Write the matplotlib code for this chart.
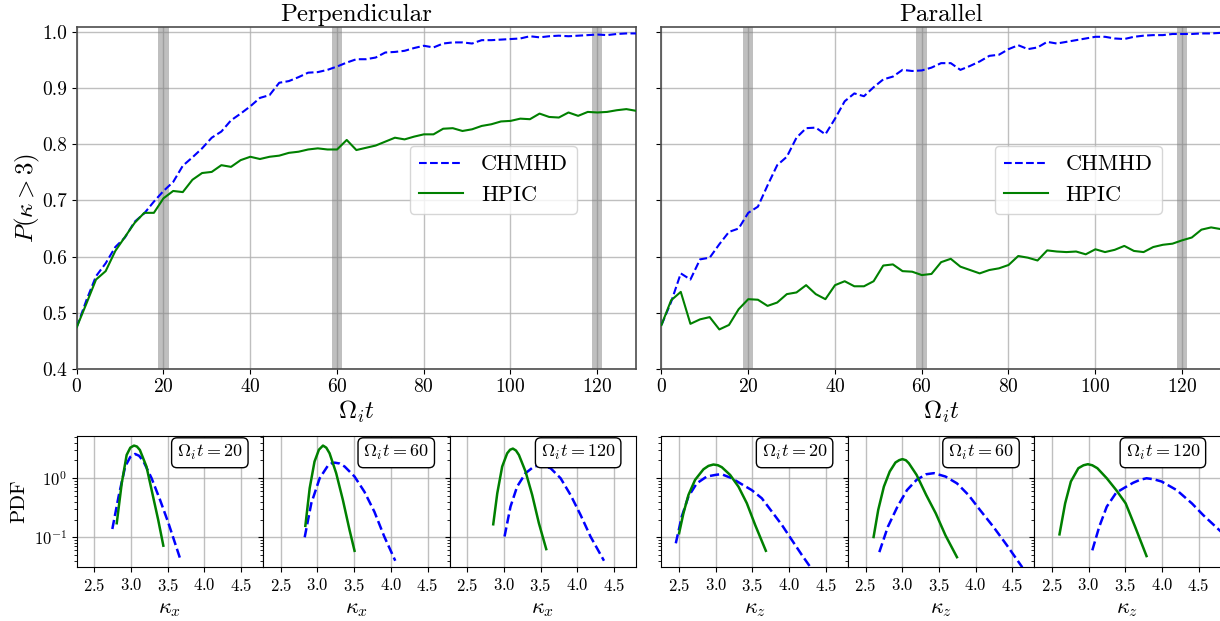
"""
P(kappa > 3) vs time, perpendicular and parallel, with PDF snapshots below
"""

import numpy as np
import matplotlib
matplotlib.use('Agg')
import matplotlib.pyplot as plt

plt.rcParams['font.family'] = 'serif'
plt.rcParams['font.serif'] = ['cmr10', 'DejaVu Serif']
plt.rcParams['mathtext.fontset'] = 'cm'
plt.rcParams['axes.formatter.use_mathtext'] = True
plt.rcParams['axes.unicode_minus'] = False

# time axis (59 outputs, 0 .. 129)
t = np.linspace(0, 129, 59)

perp_chmhd = [0.474, 0.522, 0.565, 0.588, 0.617, 0.634, 0.662, 0.677, 0.698, 0.717,
              0.733, 0.762, 0.777, 0.793, 0.812, 0.823, 0.843, 0.855, 0.868, 0.883,
              0.888, 0.910, 0.913, 0.920, 0.928, 0.929, 0.933, 0.939, 0.946, 0.952,
              0.952, 0.955, 0.964, 0.965, 0.967, 0.972, 0.976, 0.973, 0.980, 0.982,
              0.982, 0.980, 0.986, 0.986, 0.987, 0.988, 0.989, 0.993, 0.991, 0.993,
              0.994, 0.993, 0.994, 0.995, 0.996, 0.995, 0.997, 0.998, 0.998]
perp_hpic = [0.474, 0.516, 0.559, 0.574, 0.610, 0.635, 0.660, 0.678, 0.678, 0.704,
             0.717, 0.715, 0.737, 0.749, 0.751, 0.763, 0.760, 0.772, 0.778, 0.774,
             0.778, 0.780, 0.785, 0.787, 0.791, 0.793, 0.791, 0.791, 0.808, 0.790,
             0.794, 0.798, 0.805, 0.812, 0.809, 0.814, 0.818, 0.818, 0.828, 0.829,
             0.824, 0.827, 0.833, 0.836, 0.841, 0.842, 0.846, 0.845, 0.855, 0.849,
             0.848, 0.857, 0.851, 0.858, 0.857, 0.858, 0.861, 0.863, 0.860]
par_chmhd = [0.478, 0.519, 0.570, 0.559, 0.595, 0.598, 0.622, 0.644, 0.650, 0.678,
             0.689, 0.727, 0.763, 0.778, 0.812, 0.829, 0.830, 0.818, 0.846, 0.877,
             0.891, 0.886, 0.902, 0.916, 0.921, 0.933, 0.931, 0.932, 0.937, 0.945,
             0.945, 0.933, 0.940, 0.948, 0.958, 0.960, 0.970, 0.977, 0.970, 0.973,
             0.983, 0.980, 0.983, 0.986, 0.989, 0.992, 0.992, 0.989, 0.988, 0.992,
             0.994, 0.995, 0.995, 0.997, 0.997, 0.997, 0.998, 0.998, 0.999]
par_hpic = [0.478, 0.522, 0.537, 0.480, 0.488, 0.492, 0.470, 0.478, 0.506, 0.524,
            0.523, 0.512, 0.518, 0.533, 0.536, 0.549, 0.533, 0.524, 0.549, 0.556,
            0.547, 0.547, 0.556, 0.584, 0.586, 0.574, 0.573, 0.567, 0.569, 0.590,
            0.596, 0.582, 0.576, 0.570, 0.576, 0.579, 0.585, 0.601, 0.598, 0.593,
            0.611, 0.609, 0.608, 0.609, 0.604, 0.613, 0.608, 0.612, 0.619, 0.610,
            0.608, 0.617, 0.621, 0.623, 0.629, 0.634, 0.648, 0.652, 0.649]

snap_times = [20, 60, 120]

# PDF snapshots: (kappa, pdf) for CHMHD and HPIC
# perpendicular, kappa_x
kx20_chmhd_k = [2.745, 2.83, 2.92, 2.99, 3.055, 3.11, 3.17, 3.28, 3.395, 3.51, 3.60, 3.67]
kx20_chmhd_p = [0.138, 0.49, 1.58, 2.30, 2.58, 2.40, 1.92, 1.00, 0.43, 0.173, 0.079, 0.043]
kx20_hpic_k = [2.805, 2.873, 2.94, 2.99, 3.04, 3.08, 3.12, 3.21, 3.30, 3.37, 3.44]
kx20_hpic_p = [0.173, 0.82, 2.48, 3.30, 3.58, 3.45, 3.02, 1.58, 0.49, 0.197, 0.072]

kx60_chmhd_k = [2.826, 2.916, 3.03, 3.14, 3.19, 3.233, 3.30, 3.37, 3.505, 3.64, 3.776, 3.91, 4.06]
kx60_chmhd_p = [0.100, 0.377, 1.00, 1.62, 1.78, 1.84, 1.78, 1.58, 1.07, 0.59, 0.27, 0.103, 0.040]
kx60_hpic_k = [2.835, 2.894, 2.96, 3.02, 3.075, 3.12, 3.165, 3.255, 3.346, 3.437, 3.505]
kx60_hpic_p = [0.156, 0.68, 1.92, 3.05, 3.58, 3.30, 2.65, 1.22, 0.43, 0.133, 0.059]

kx120_chmhd_k = [3.009, 3.09, 3.18, 3.295, 3.41, 3.50, 3.636, 3.773, 3.909, 4.045, 4.18, 4.364]
kx120_chmhd_p = [0.103, 0.33, 0.72, 1.22, 1.58, 1.66, 1.48, 1.00, 0.52, 0.239, 0.103, 0.040]
kx120_hpic_k = [2.855, 2.91, 2.977, 3.045, 3.085, 3.123, 3.165, 3.205, 3.295, 3.386, 3.477, 3.577]
kx120_hpic_p = [0.166, 0.557, 1.58, 2.65, 3.05, 3.18, 2.95, 2.48, 1.30, 0.52, 0.173, 0.063]

# parallel, kappa_z
kz20_chmhd_k = [2.455, 2.536, 2.627, 2.741, 2.877, 3.014, 3.08, 3.218, 3.355, 3.49,
                3.627, 3.764, 3.90, 4.036, 4.173, 4.29]
kz20_chmhd_p = [0.079, 0.224, 0.49, 0.82, 1.07, 1.15, 1.17, 1.00, 0.79, 0.63,
                0.458, 0.272, 0.162, 0.090, 0.050, 0.031]
kz20_hpic_k = [2.50, 2.559, 2.627, 2.718, 2.832, 2.90, 2.968, 3.03, 3.082, 3.195, 3.309,
               3.423, 3.536, 3.682]
kz20_hpic_p = [0.117, 0.255, 0.52, 0.94, 1.42, 1.62, 1.71, 1.66, 1.54, 1.14, 0.72,
               0.377, 0.162, 0.059]

kz60_chmhd_k = [2.688, 2.804, 2.935, 3.065, 3.196, 3.327, 3.432, 3.589, 3.746, 3.903,
                4.06, 4.243, 4.427, 4.636]
kz60_chmhd_p = [0.056, 0.15, 0.33, 0.63, 0.94, 1.17, 1.22, 1.07, 0.82, 0.52,
                0.29, 0.15, 0.073, 0.031]
kz60_hpic_k = [2.61, 2.673, 2.75, 2.83, 2.908, 2.96, 3.003, 3.05, 3.09, 3.196, 3.327,
               3.458, 3.589, 3.746]
kz60_hpic_p = [0.101, 0.29, 0.72, 1.30, 1.85, 2.03, 2.11, 2.02, 1.80, 1.14, 0.52,
               0.253, 0.108, 0.046]

kz120_chmhd_k = [3.05, 3.144, 3.247, 3.376, 3.479, 3.608, 3.70, 3.789, 3.89, 3.995,
                 4.20, 4.407, 4.562, 4.85]
kz120_chmhd_p = [0.060, 0.15, 0.33, 0.57, 0.68, 0.84, 0.94, 1.00, 0.96, 0.88,
                 0.63, 0.375, 0.237, 0.11]
kz120_hpic_k = [2.603, 2.68, 2.758, 2.86, 2.93, 2.99, 3.05, 3.119, 3.247, 3.376, 3.505,
                3.634, 3.789]
kz120_hpic_p = [0.112, 0.375, 0.88, 1.48, 1.66, 1.73, 1.66, 1.48, 1.00, 0.63, 0.375,
                0.15, 0.048]

perp_pdfs = [
    (kx20_chmhd_k, kx20_chmhd_p, kx20_hpic_k, kx20_hpic_p),
    (kx60_chmhd_k, kx60_chmhd_p, kx60_hpic_k, kx60_hpic_p),
    (kx120_chmhd_k, kx120_chmhd_p, kx120_hpic_k, kx120_hpic_p),
]
par_pdfs = [
    (kz20_chmhd_k, kz20_chmhd_p, kz20_hpic_k, kz20_hpic_p),
    (kz60_chmhd_k, kz60_chmhd_p, kz60_hpic_k, kz60_hpic_p),
    (kz120_chmhd_k, kz120_chmhd_p, kz120_hpic_k, kz120_hpic_p),
]

fig = plt.figure(figsize=(12.2, 6.21), dpi=100)

# axes positions (figure fractions)
top_y, top_h = 0.4063, 0.5507
bot_y, bot_h = 0.0865, 0.2114
left_x = [0.0629, 0.5422]
panel_w = 0.4584

top_axes = []
for k, (title, chmhd, hpic) in enumerate([('Perpendicular', perp_chmhd, perp_hpic),
                                          ('Parallel', par_chmhd, par_hpic)]):
    ax = fig.add_axes([left_x[k], top_y, panel_w, top_h])
    ax.plot(t, chmhd, '--', color='blue', lw=1.5, label='CHMHD', zorder=3)
    ax.plot(t, hpic, '-', color='green', lw=1.5, label='HPIC', zorder=3)
    for ts in snap_times:
        ax.axvspan(ts - 1.2, ts + 1.2, color='gray', alpha=0.5, lw=0, zorder=2)
    ax.set_xlim(0, 129)
    ax.set_ylim(0.4, 1.01)
    ax.set_xticks([0, 20, 40, 60, 80, 100, 120])
    ax.set_yticks([0.4, 0.5, 0.6, 0.7, 0.8, 0.9, 1.0])
    ax.grid(True, color='#b0b0b0', lw=1.0, alpha=0.8, zorder=0)
    ax.tick_params(labelsize=14)
    ax.set_title(title, fontsize=18, pad=4)
    ax.set_xlabel(r'$\Omega_i t$', fontsize=18, labelpad=2)
    for s in ax.spines.values():
        s.set_color('0.3')
        s.set_linewidth(1.2)
    ax.legend(loc='center', bbox_to_anchor=(0.745, 0.552), fontsize=16)
    if k == 0:
        ax.set_ylabel(r'$P(\kappa > 3)$', fontsize=18, labelpad=0)
        ax.yaxis.set_major_formatter(plt.FormatStrFormatter('%.1f'))
    else:
        ax.tick_params(labelleft=False)
    top_axes.append(ax)

for k, (pdfs, comp) in enumerate([(perp_pdfs, 'x'), (par_pdfs, 'z')]):
    for j, (ck, cp, hk, hp) in enumerate(pdfs):
        ax = fig.add_axes([left_x[k] + j * panel_w / 3, bot_y, panel_w / 3, bot_h])
        ax.plot(ck, cp, '--', color='blue', lw=1.8, zorder=3)
        ax.plot(hk, hp, '-', color='green', lw=1.8, zorder=3)
        ax.set_yscale('log')
        ax.set_xlim(2.26, 4.8)
        ax.set_ylim(0.031, 5.2)
        ax.set_xticks([2.5, 3.0, 3.5, 4.0, 4.5])
        ax.grid(True, which='major', color='#b0b0b0', lw=1.0, alpha=0.8, zorder=0)
        ax.tick_params(labelsize=12)
        ax.set_xlabel(r'$\kappa_%s$' % comp, fontsize=16, labelpad=4)
        ax.text(0.89, 0.945, r'$\Omega_i t = %d$' % snap_times[j], transform=ax.transAxes,
                ha='right', va='top', fontsize=13, zorder=5,
                bbox=dict(boxstyle='round,pad=0.3', fc='white', ec='black', lw=1.0))
        if k == 0 and j == 0:
            ax.set_ylabel('PDF', fontsize=15, labelpad=4)
        else:
            ax.tick_params(labelleft=False)

plt.savefig('out.png', dpi=100)
plt.close()
